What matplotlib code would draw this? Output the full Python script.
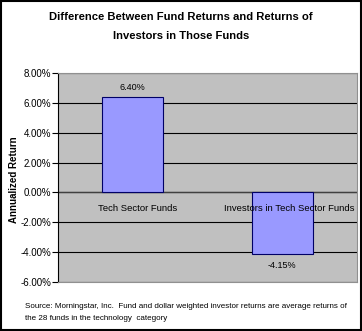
import matplotlib.pyplot as plt
from matplotlib.ticker import FuncFormatter
from matplotlib.patches import Rectangle

categories = ["Tech Sector Funds", "Investors in Tech Sector Funds"]
returns = [6.40, -4.15]
yticks = [-6, -4, -2, 0, 2, 4, 6, 8]

plt.rcParams['font.family'] = ['Liberation Sans', 'DejaVu Sans']

fig = plt.figure(figsize=(3.62, 3.31), dpi=100)
ax = fig.add_axes([58 / 362, 1 - 282 / 331, 299 / 362, 209 / 331])
ax.set_facecolor("#C0C0C0")

x = list(range(len(categories)))
ax.bar(x, returns, width=0.41, color="#9999FF", edgecolor="#000066", linewidth=0.8, zorder=3)

ax.set_xlim(-0.5, 1.5)
ax.set_ylim(-6, 8)
ax.set_yticks(yticks)
ax.yaxis.set_major_formatter(FuncFormatter(lambda v, p: f"{v:.2f}%"))
ax.tick_params(axis="y", labelsize=7, length=4, direction="out", pad=1)
ax.set_xticks([])
ax.grid(axis="y", color="black", linewidth=0.8, zorder=1)
ax.axhline(0, color="#404040", linewidth=1, zorder=2)

for s in ["top", "right", "bottom"]:
    ax.spines[s].set_color("#909090")
ax.spines["left"].set_color("black")

# category labels just under the zero line
label_shift = [0.03, 0.05]
for xi, name, dx in zip(x, categories, label_shift):
    ax.text(xi + dx, -1.07, name, ha="center", va="center", fontsize=6.8, zorder=4)

# value labels
for xi, v in zip(x, returns):
    if v >= 0:
        ax.text(xi, v + 0.3, f"{v:.2f}%", ha="center", va="bottom", fontsize=6.5, zorder=4)
    else:
        ax.text(xi, v - 0.45, f"{v:.2f}%", ha="center", va="top", fontsize=6.5, zorder=4)

fig.text(14 / 362, 1 - 180 / 331, "Annualized Return", rotation=90,
         ha="center", va="center", fontsize=7, fontweight="bold")

fig.text(0.5, 1 - 17 / 331, "Difference Between Fund Returns and Returns of",
         ha="center", va="center", fontsize=8.1, fontweight="bold")
fig.text(0.5, 1 - 36 / 331, "Investors in Those Funds",
         ha="center", va="center", fontsize=8.1, fontweight="bold")

fig.text(25 / 362, 1 - 307 / 331,
         "Source: Morningstar, Inc.  Fund and dollar weighted investor returns are average returns of",
         ha="left", va="center", fontsize=5.8)
fig.text(25 / 362, 1 - 319 / 331, "the 28 funds in the technology  category",
         ha="left", va="center", fontsize=5.8)

fig.patches.append(Rectangle((0.004, 0.004), 0.992, 0.992, transform=fig.transFigure,
                             fill=False, edgecolor="black", linewidth=1.5))

fig.savefig("out.png", dpi=100)
